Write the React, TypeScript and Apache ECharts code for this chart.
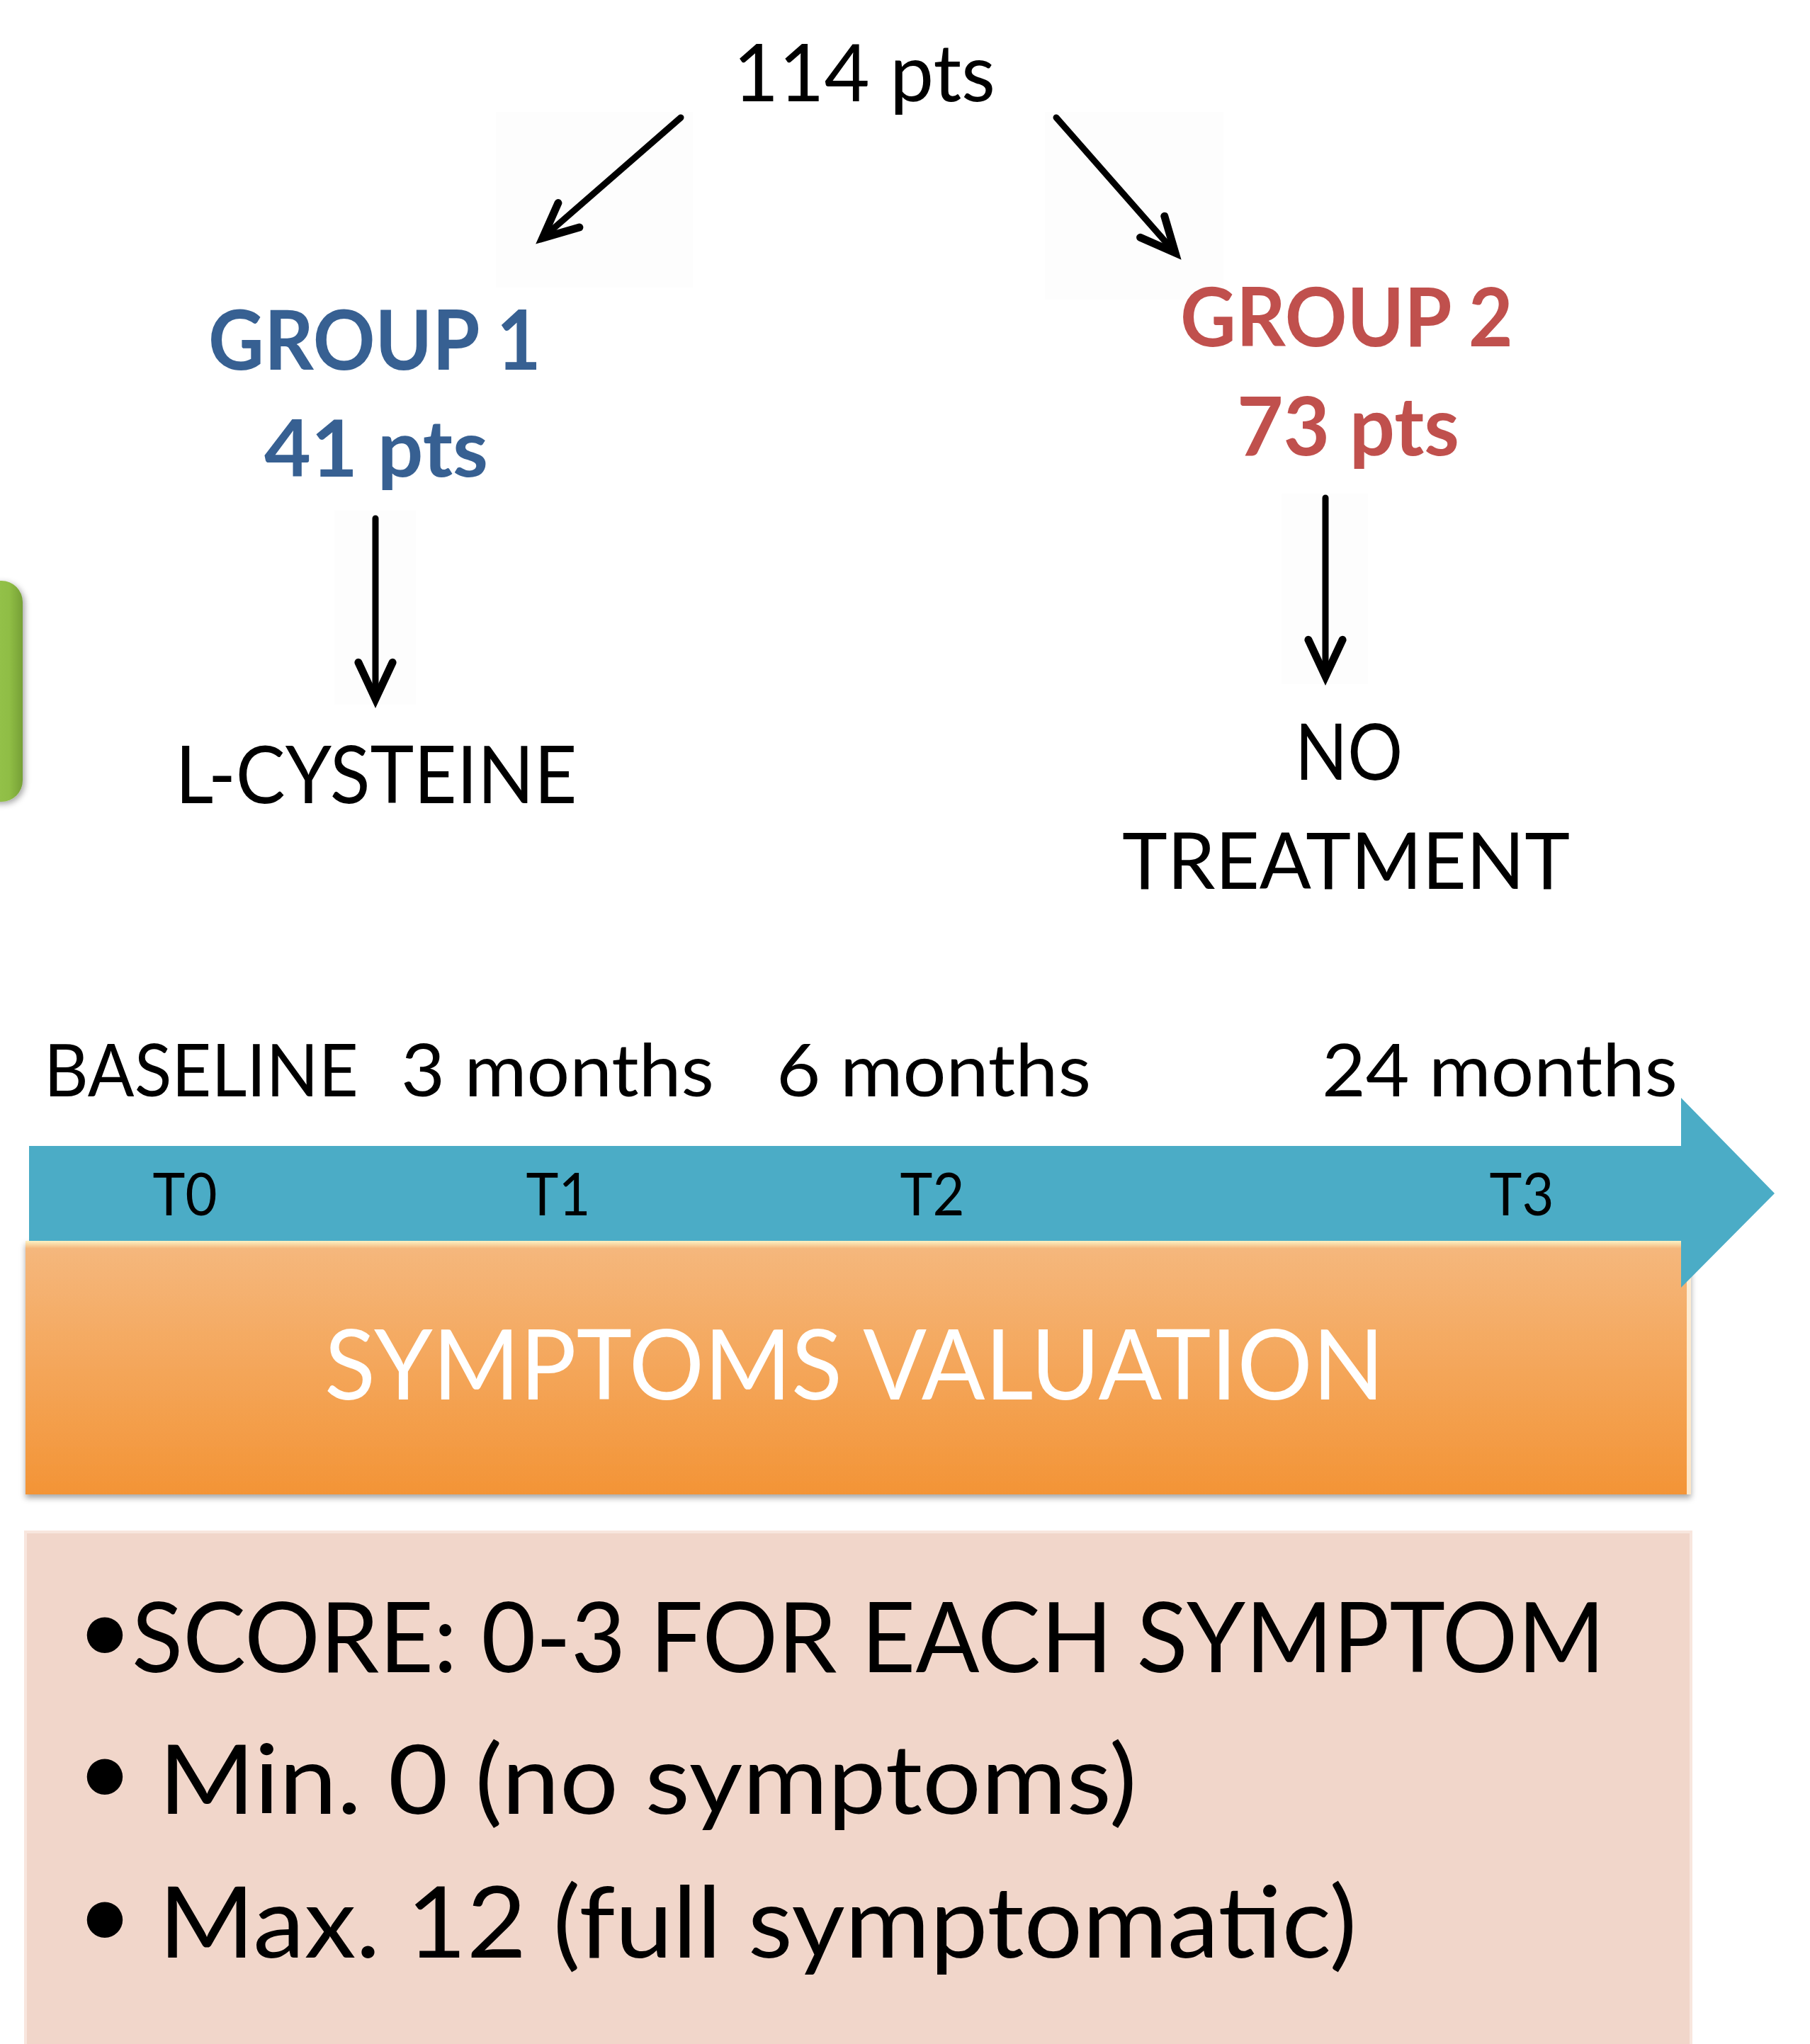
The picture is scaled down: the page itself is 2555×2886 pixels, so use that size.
import React, { useEffect, useRef } from "react";
import * as echarts from "echarts";

// ---------------- data ----------------
const totalLabel = "114 pts";
const groupNames = ["GROUP 1", "GROUP 2"];
const groupCounts = ["41 pts", "73 pts"];
const groupTreatments = [["L-CYSTEINE"], ["NO", "TREATMENT"]];
const groupColors = ["#376092", "#c0504d"];
const timepointLabels = ["BASELINE", "3 months", "6 months", "24 months"];
const timepointCodes = ["T0", "T1", "T2", "T3"];
const evaluationLabel = "SYMPTOMS VALUATION";
const scoreBullets = ["•", "•", "•"];
const scoreLines = ["SCORE: 0-3 FOR EACH SYMPTOM", "Min. 0 (no symptoms)", "Max. 12 (full symptomatic)"];

// ---------------- layout ----------------
const W = 2555;
const H = 2886;
const FONT = "Lato";
const CAP = 0.7165;
const CENTRAL = 0.387;

let measureCtx: CanvasRenderingContext2D | null = null;
function measure(text: string, fs: number, weight: string | number) {
  if (!measureCtx) measureCtx = document.createElement("canvas").getContext("2d");
  measureCtx!.font = `${weight} ${fs}px ${FONT}`;
  return measureCtx!.measureText(text).width;
}

function txt(
  text: string,
  x: number,
  align: "left" | "center",
  top: number,
  base: number,
  width: number,
  color: string,
  weight: string | number = "normal",
  z = 10
) {
  const fs = (base - top) / CAP;
  const w = measure(text, fs, weight);
  const sx = width && w ? width / w : 1;
  return {
    type: "text",
    x,
    y: base - CENTRAL * fs,
    scaleX: sx,
    z,
    style: {
      text,
      fill: color,
      fontFamily: FONT,
      fontSize: fs,
      fontWeight: weight,
      textAlign: align,
      align,
      textVerticalAlign: "middle",
      verticalAlign: "middle",
    },
  };
}

function arrow(sx: number, sy: number, tx: number, ty: number, len = 54, angDeg = 25, lw = 9) {
  const dx = tx - sx;
  const dy = ty - sy;
  const d = Math.hypot(dx, dy);
  const ux = dx / d;
  const uy = dy / d;
  const a = (angDeg * Math.PI) / 180;
  const arm = (t: number) => {
    const rx = ux * Math.cos(t) - uy * Math.sin(t);
    const ry = ux * Math.sin(t) + uy * Math.cos(t);
    return [tx - len * rx, ty - len * ry];
  };
  return [
    {
      type: "line",
      z: 5,
      shape: { x1: sx, y1: sy, x2: tx - ux * 5, y2: ty - uy * 5 },
      style: { stroke: "#000", lineWidth: lw, lineCap: "round" },
    },
    {
      type: "polyline",
      z: 5,
      shape: { points: [arm(a), [tx, ty], arm(-a)] },
      style: { stroke: "#000", lineWidth: lw + 2, lineCap: "round", lineJoin: "miter", fill: null },
    },
  ];
}

function buildElements() {
  const els: any[] = [];

  // faint boxes behind the arrows
  const faint = [
    [700, 158, 278, 248],
    [1475, 158, 252, 265],
    [472, 721, 115, 274],
    [1809, 697, 122, 269],
  ];
  faint.forEach(([x, y, w, h]) =>
    els.push({ type: "rect", z: 1, shape: { x, y, width: w, height: h }, style: { fill: "#fdfdfd" } })
  );

  // green tab at the left edge
  els.push({
    type: "rect",
    z: 2,
    shape: { x: -60, y: 820, width: 92, height: 312, r: 30 },
    style: {
      fill: new echarts.graphic.LinearGradient(0, 0, 1, 0, [
        { offset: 0, color: "#a3d154" },
        { offset: 0.8, color: "#8fbd45" },
        { offset: 1, color: "#76a036" },
      ]),
      shadowBlur: 8,
      shadowOffsetX: 3,
      shadowOffsetY: 3,
      shadowColor: "rgba(0,0,0,0.35)",
    },
  });

  // top
  els.push(txt(totalLabel, 1220, "center", 62, 143, 370, "#000"));
  els.push(...arrow(961, 166, 766, 336));
  els.push(...arrow(1491, 166, 1659, 357));

  // groups
  const gx = [529, 1901];
  const gTop = [438, 406];
  const gBase = [522, 489];
  const cTop = [593, 560];
  const cBase = [673, 643];
  const gW = [473, 473];
  const cW = [316, 314];
  groupNames.forEach((g, i) => {
    els.push(txt(g, gx[i], "center", gTop[i], gBase[i], gW[i], groupColors[i], "bold"));
    els.push(txt(groupCounts[i], gx[i] + 2, "center", cTop[i], cBase[i], cW[i], groupColors[i], "bold"));
  });
  els.push(...arrow(530, 732, 530, 987, 57, 25));
  els.push(...arrow(1871, 703, 1871, 955, 57, 25));

  // treatments
  const tPos = [
    [[531, 1053, 1134, 567]],
    [
      [1904, 1022, 1101, 152],
      [1900, 1176, 1255, 632],
    ],
  ];
  groupTreatments.forEach((lines, i) =>
    lines.forEach((l, j) => {
      const [x, t, b, w] = tPos[i][j];
      els.push(txt(l, x, "center", t, b, w, "#000"));
    })
  );

  // timeline labels
  const tlLeft = [62, 566, 1096, 1866];
  const tlW = [444, 442, 444, 502];
  timepointLabels.forEach((l, i) => els.push(txt(l, tlLeft[i], "left", 1474, 1548, tlW[i], "#000")));

  // orange evaluation box
  els.push({
    type: "rect",
    z: 3,
    shape: { x: 36, y: 1752, width: 2351, height: 358 },
    style: {
      fill: new echarts.graphic.LinearGradient(0, 0, 0, 1, [
        { offset: 0, color: "#fdf2c4" },
        { offset: 0.03, color: "#f5b77c" },
        { offset: 1, color: "#f39436" },
      ]),
      shadowBlur: 8,
      shadowOffsetY: 5,
      shadowColor: "rgba(0,0,0,0.35)",
    },
  });
  els.push({
    type: "rect",
    z: 3,
    shape: { x: 2381, y: 1752, width: 6, height: 358 },
    style: { fill: "rgba(255,250,235,0.8)" },
  });
  els.push(txt(evaluationLabel, 1206, "center", 1877, 1976, 1500, "#ffffff"));

  // blue timeline arrow
  els.push({
    type: "polygon",
    z: 4,
    shape: {
      points: [
        [41, 1618],
        [2373, 1618],
        [2373, 1550],
        [2505, 1685],
        [2373, 1818],
        [2373, 1752],
        [41, 1752],
      ],
    },
    style: { fill: "#4bacc6" },
  });
  const tcx = [261, 788, 1316, 2148];
  timepointCodes.forEach((c, i) => els.push(txt(c, tcx[i], "center", 1656, 1716, 91, "#000")));

  // pink score box
  els.push({
    type: "rect",
    z: 3,
    shape: { x: 36, y: 2163, width: 2351, height: 760 },
    style: { fill: "#f1d6ca", stroke: "#f8e6de", lineWidth: 4 },
  });
  const sTop = [2263, 2463, 2664];
  const sBase = [2361, 2561, 2764];
  const sLeft = [186, 224, 224];
  const sW = [2079, 1381, 1691];
  scoreLines.forEach((l, i) => {
    const mid = (sTop[i] + sBase[i]) / 2;
    const bfs = 136;
    els.push({
      type: "text",
      x: 148,
      y: mid - 0.116 * bfs,
      z: 10,
      style: {
        text: scoreBullets[i],
        fill: "#000",
        fontFamily: FONT,
        fontSize: bfs,
        textAlign: "center",
        align: "center",
        textVerticalAlign: "middle",
        verticalAlign: "middle",
      },
    });
    els.push(txt(l, sLeft[i], "left", sTop[i], sBase[i], sW[i], "#000"));
  });

  return els;
}

export default function App() {
  const ref = useRef<HTMLDivElement>(null);
  useEffect(() => {
    document.body.style.margin = "0";
    const chart = echarts.init(ref.current!, undefined, { renderer: "svg", width: W, height: H });
    chart.setOption({
      animation: false,
      backgroundColor: "#ffffff",
      graphic: { elements: buildElements() },
    });
    return () => chart.dispose();
  }, []);
  return <div ref={ref} style={{ width: W, height: H }} />;
}
